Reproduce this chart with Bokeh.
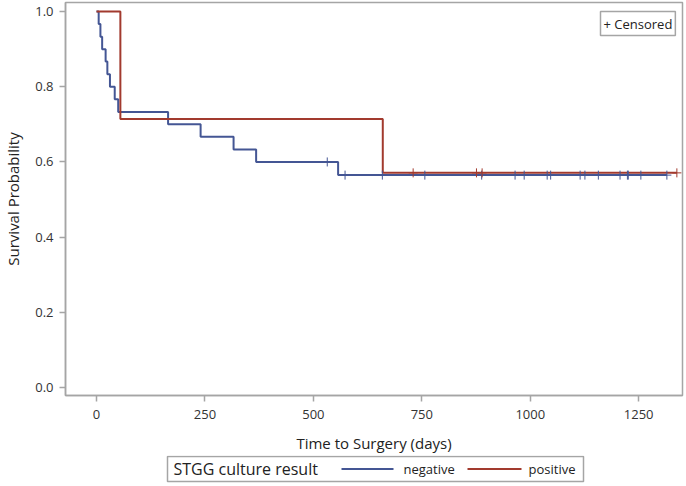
from bokeh.plotting import figure
from bokeh.models import Range1d, FixedTicker, Label, NumeralTickFormatter
from bokeh.layouts import column
from bokeh.core.properties import value
from bokeh.embed import file_html
from bokeh.resources import INLINE
import numpy as np

# ---- data ----
neg_times = [0, 5, 9, 13, 21, 25, 31, 42, 50, 165, 240, 316, 368, 557, 1315]
neg_surv = [1.0, 0.967, 0.933, 0.900, 0.867, 0.833, 0.800, 0.767, 0.733,
            0.700, 0.667, 0.633, 0.600, 0.565, 0.565]
neg_censor = [532, 573, 659, 757, 888, 965, 986, 1039, 1047, 1115, 1126,
              1157, 1207, 1224, 1226, 1255, 1315]

pos_times = [0, 55, 660, 1338]
pos_surv = [1.0, 0.714, 0.571, 0.571]
pos_censor = [730, 876, 889, 1338]

x_ticks = [0, 250, 500, 750, 1000, 1250]
y_ticks = [0.0, 0.2, 0.4, 0.6, 0.8, 1.0]

legend_title = "STGG culture result"
group_labels = ["negative", "positive"]
group_colors = ["#445694", "#A23A2E"]

FONT = "Open Sans"
GREY = "#a5a5a5"
TXT = "#222222"
W = 686
H_MAIN = 455
H_LEG = 31
BL, BR = 65, 4          # left / right borders shared by both figures
FW = W - BL - BR        # frame width in pixels


def surv_at(times, surv, t):
    idx = np.searchsorted(np.array(times), np.array(t), side="right") - 1
    return [surv[i] for i in idx]


p = figure(width=W, height=H_MAIN, output_backend="svg", toolbar_location=None,
           x_range=Range1d(-71.5, 1351), y_range=Range1d(-0.021, 1.024),
           min_border_left=BL, min_border_right=BR, min_border_top=2,
           min_border_bottom=58)
p.grid.visible = False
p.outline_line_color = GREY
p.outline_line_width = 1.5
p.background_fill_color = "white"
p.border_fill_color = "white"

for ax in (p.xaxis, p.yaxis):
    ax.axis_line_color = GREY
    ax.axis_line_width = 1.5
    ax.major_tick_line_color = GREY
    ax.major_tick_line_width = 1.5
    ax.minor_tick_line_color = None
    ax.major_tick_out = 6
    ax.major_tick_in = 0
    ax.major_label_text_font = FONT
    ax.major_label_text_font_size = "13px"
    ax.major_label_text_color = "#333333"
    ax.axis_label_text_font = FONT
    ax.axis_label_text_font_size = "15px"
    ax.axis_label_text_font_style = "normal"
    ax.axis_label_text_color = TXT

p.xaxis.ticker = FixedTicker(ticks=x_ticks)
p.yaxis.ticker = FixedTicker(ticks=y_ticks)
p.yaxis.formatter = NumeralTickFormatter(format="0.0")
p.xaxis.axis_label = "Time to Surgery (days)"
p.yaxis.axis_label = "Survival Probability"
p.xaxis.major_label_standoff = 8
p.xaxis.axis_label_standoff = 11
p.yaxis.major_label_standoff = 6
p.yaxis.axis_label_standoff = 9

p.step(neg_times, neg_surv, mode="after", line_color=group_colors[0], line_width=2)
p.step(pos_times, pos_surv, mode="after", line_color=group_colors[1], line_width=2)

p.scatter(neg_censor, surv_at(neg_times, neg_surv, neg_censor), marker="cross",
          size=9, line_color=group_colors[0], line_width=1)
p.scatter(pos_censor, surv_at(pos_times, pos_surv, pos_censor), marker="cross",
          size=9, line_color=group_colors[1], line_width=1)

# "+ Censored" inset box (top right of the frame)
p.add_layout(Label(x=FW - 82, y=1.0, x_units="screen", y_units="data",
                   text="+ Censored", text_font=FONT, text_font_size="13px",
                   text_color=TXT, text_align="left", text_baseline="top",
                   border_line_color=GREY, border_line_width=1.5,
                   background_fill_color="white", padding=3))

# ---- legend strip below the plot (pixel coordinates relative to frame) ----
lg = figure(width=W, height=H_LEG, output_backend="svg", toolbar_location=None,
            x_range=Range1d(0, FW), y_range=Range1d(0, H_LEG),
            min_border_left=BL, min_border_right=BR, min_border_top=0,
            min_border_bottom=0)
lg.axis.visible = False
lg.grid.visible = False
lg.outline_line_color = None
lg.border_fill_color = "white"

lg.quad(left=[102], right=[518], bottom=[5], top=[30], fill_alpha=0,
        line_color=GREY, line_width=1.5)
lg.text(x=[108], y=[17.5], text=[legend_title], text_font=value(FONT),
        text_font_size="16px", text_color=TXT, text_baseline="middle")
sw_x0 = [276, 402]
sw_x1 = [328, 456]
lab_x = [338, 463]
lg.segment(x0=sw_x0, x1=sw_x1, y0=[17.5, 17.5], y1=[17.5, 17.5],
           line_color=group_colors, line_width=2)
lg.text(x=lab_x, y=[17.5, 17.5], text=group_labels, text_font=value(FONT),
        text_font_size="13px", text_color=TXT, text_baseline="middle")

layout = column(p, lg, spacing=0)
open("out.html", "w").write(file_html(layout, INLINE))
